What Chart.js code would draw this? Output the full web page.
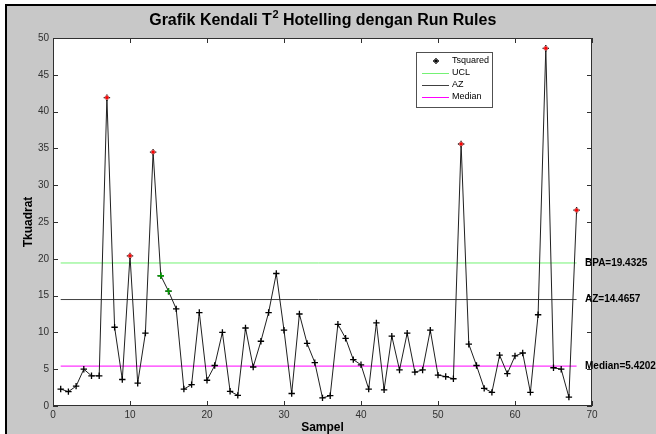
<!DOCTYPE html>
<html>
<head>
<meta charset="utf-8">
<script src="https://cdn.jsdelivr.net/npm/chart.js@4/dist/chart.umd.min.js"></script>
<style>
  html, body { margin: 0; padding: 0; background: #ffffff; }
  #c { display: block; }
</style>
</head>
<body>
<canvas id="c" width="656" height="434"></canvas>
<script>
// T-squared statistic per sample
const samples = Array.from({ length: 68 }, (_, i) => i + 1);
const tsquared = [
  2.3, 1.95, 2.7, 5.0, 4.1, 4.1, 41.9, 10.7, 3.6, 20.4,
  3.1, 9.9, 34.5, 17.7, 15.6, 13.2, 2.3, 2.9, 12.7, 3.5,
  5.5, 10.0, 2.0, 1.45, 10.6, 5.3, 8.8, 12.7, 18.0, 10.3,
  1.7, 12.5, 8.5, 5.9, 1.1, 1.4, 11.1, 9.2, 6.3, 5.6,
  2.3, 11.3, 2.2, 9.5, 4.9, 9.9, 4.6, 4.9, 10.3, 4.2,
  4.0, 3.7, 35.6, 8.4, 5.5, 2.4, 1.85, 6.9, 4.4, 6.8,
  7.2, 1.85, 12.4, 48.6, 5.2, 5.0, 1.2, 26.6
];

// Control limits
const ucl = 19.4325;     // BPA
const az = 14.4657;      // zone A boundary
const median = 5.4202;

// Axis ticks
const xTicks = [0, 10, 20, 30, 40, 50, 60, 70];
const yTicks = [0, 5, 10, 15, 20, 25, 30, 35, 40, 45, 50];

const legendNames = ['Tsquared', 'UCL', 'AZ', 'Median'];
const limitLabels = ['BPA=' + ucl, 'AZ=' + az, 'Median=' + median];

// Points beyond the UCL
const outPoints = samples.map((s, i) => tsquared[i] > ucl ? { x: s, y: tsquared[i] } : null).filter(p => p);

// Run rule: 2 of 3 consecutive points in zone A (between AZ and UCL) or beyond
const runPoints = [];
samples.forEach((s, i) => {
  const v = tsquared[i];
  if (!(v > az && v <= ucl)) return;
  let flagged = false;
  for (let start = i - 2; start <= i; start++) {
    if (start < 0 || start + 2 >= tsquared.length) continue;
    let n = 0;
    for (let k = start; k < start + 3; k++) if (tsquared[k] > az) n++;
    if (n >= 2) flagged = true;
  }
  if (flagged) runPoints.push({ x: s, y: v });
});

const seriesPoints = samples.map((s, i) => ({ x: s, y: tsquared[i] }));
const hline = v => [{ x: samples[0], y: v }, { x: samples[samples.length - 1], y: v }];

const COLORS = { ucl: '#74f274', az: '#404040', median: '#ff00ff', series: '#202020' };
const FONT = '"Liberation Sans", Arial, sans-serif';

function drawPlus(ctx, x, y, r, color) {
  ctx.strokeStyle = color;
  ctx.lineWidth = 1.3;
  ctx.beginPath();
  ctx.moveTo(x, y - r); ctx.lineTo(x, y + r);
  ctx.moveTo(x - r, y); ctx.lineTo(x + r, y);
  ctx.stroke();
  ctx.lineWidth = 0.8;
  const d = r * 0.6;
  ctx.beginPath();
  ctx.moveTo(x - d, y - d); ctx.lineTo(x + d, y + d);
  ctx.moveTo(x + d, y - d); ctx.lineTo(x - d, y + d);
  ctx.stroke();
}

const figurePlugin = {
  id: 'figure',
  beforeDraw(chart) {
    const { ctx, width, height, chartArea: a } = chart;
    ctx.save();
    ctx.fillStyle = '#ffffff';
    ctx.fillRect(0, 0, width, height);
    ctx.fillStyle = '#c8c8c8';
    ctx.fillRect(5, 4, width - 5, height - 4);
    ctx.fillStyle = '#000000';
    ctx.fillRect(5, 4, 2, height - 4);
    ctx.fillRect(5, 4, width - 5, 2);
    ctx.fillStyle = '#ffffff';
    ctx.fillRect(a.left, a.top, a.right - a.left, a.bottom - a.top);
    ctx.restore();
  },
  afterDraw(chart) {
    const { ctx, chartArea: a, scales } = chart;
    const xs = scales.x, ys = scales.y;
    ctx.save();

    // axes box with inward ticks
    ctx.strokeStyle = '#303030';
    ctx.lineWidth = 1;
    ctx.strokeRect(a.left + 0.5, a.top + 0.5, a.right - a.left - 1, a.bottom - a.top - 1);
    ctx.beginPath();
    const tl = 5;
    xTicks.forEach(t => {
      const px = Math.round(xs.getPixelForValue(t)) + 0.5;
      ctx.moveTo(px, a.bottom); ctx.lineTo(px, a.bottom - tl);
      ctx.moveTo(px, a.top); ctx.lineTo(px, a.top + tl);
    });
    yTicks.forEach(t => {
      const py = Math.round(ys.getPixelForValue(t)) + 0.5;
      ctx.moveTo(a.left, py); ctx.lineTo(a.left + tl, py);
      ctx.moveTo(a.right, py); ctx.lineTo(a.right - tl, py);
    });
    ctx.stroke();

    // title with superscript
    const cx = (a.left + a.right) / 2;
    const base = 25;
    const p1 = 'Grafik Kendali T', sup = '2', p2 = ' Hotelling dengan Run Rules';
    ctx.fillStyle = '#000000';
    ctx.textBaseline = 'alphabetic';
    ctx.textAlign = 'left';
    ctx.font = 'bold 16px ' + FONT;
    const w1 = ctx.measureText(p1).width, w2 = ctx.measureText(p2).width;
    ctx.font = 'bold 11px ' + FONT;
    const ws = ctx.measureText(sup).width;
    let x0 = cx - (w1 + ws + w2) / 2;
    ctx.font = 'bold 16px ' + FONT;
    ctx.fillText(p1, x0, base);
    ctx.font = 'bold 11px ' + FONT;
    ctx.fillText(sup, x0 + w1 + 0.5, base - 7);
    ctx.font = 'bold 16px ' + FONT;
    ctx.fillText(p2, x0 + w1 + ws + 0.5, base);

    // axis titles
    ctx.font = 'bold 12px ' + FONT;
    ctx.textAlign = 'center';
    ctx.textBaseline = 'middle';
    ctx.fillText('Sampel', cx, 428);
    ctx.save();
    ctx.translate(29, (a.top + a.bottom) / 2);
    ctx.rotate(-Math.PI / 2);
    ctx.fillText('Tkuadrat', 0, 0);
    ctx.restore();

    // limit labels at the right end of each line
    ctx.font = 'bold 10px ' + FONT;
    ctx.textAlign = 'left';
    ctx.textBaseline = 'middle';
    [ucl, az, median].forEach((v, i) => {
      ctx.fillText(limitLabels[i], 585, ys.getPixelForValue(v));
    });

    // legend box
    const lx = 416, ly = 52, lw = 76, lh = 55;
    ctx.fillStyle = '#ffffff';
    ctx.fillRect(lx, ly, lw, lh);
    ctx.strokeStyle = '#505050';
    ctx.lineWidth = 1;
    ctx.strokeRect(lx + 0.5, ly + 0.5, lw, lh);
    const rows = [61, 73, 85, 97];
    const lineColors = [null, COLORS.ucl, COLORS.az, COLORS.median];
    ctx.font = '9px ' + FONT;
    rows.forEach((ry, i) => {
      if (i === 0) {
        drawPlus(ctx, 436, ry, 3, '#000000');
      } else {
        ctx.fillStyle = lineColors[i];
        ctx.fillRect(422, ry, 27, 1);
      }
      ctx.fillStyle = '#000000';
      ctx.fillText(legendNames[i], 452, ry);
    });
    ctx.restore();
  }
};

new Chart(document.getElementById('c'), {
  type: 'line',
  data: {
    datasets: [
      {
        label: legendNames[0], data: seriesPoints, order: 2,
        borderColor: COLORS.series, borderWidth: 1, tension: 0,
        pointStyle: 'cross', pointRadius: 3.2, pointBorderColor: '#000000',
        pointBorderWidth: 1.3
      },
      {
        label: 'out', data: outPoints, order: 0, showLine: false,
        pointStyle: 'circle', pointRadius: 2, pointBackgroundColor: '#ff0000',
        pointBorderColor: '#d07070', pointBorderWidth: 1
      },
      {
        label: 'run', data: runPoints, order: 1, showLine: false,
        pointStyle: 'cross', pointRadius: 3.2, pointBorderColor: '#00a000',
        pointBorderWidth: 1.3
      },
      { label: legendNames[1], data: hline(ucl), order: 3, borderColor: COLORS.ucl, borderWidth: 1, pointRadius: 0 },
      { label: legendNames[2], data: hline(az), order: 3, borderColor: COLORS.az, borderWidth: 1, pointRadius: 0 },
      { label: legendNames[3], data: hline(median), order: 3, borderColor: COLORS.median, borderWidth: 1, pointRadius: 0 }
    ]
  },
  options: {
    responsive: false,
    animation: false,
    devicePixelRatio: 1,
    layout: { padding: { left: 0, top: 38, right: 64, bottom: 0 } },
    plugins: { legend: { display: false }, title: { display: false }, tooltip: { enabled: false } },
    scales: {
      x: {
        type: 'linear', min: 0, max: 70,
        afterFit: s => { s.height = 28; },
        afterBuildTicks: s => { s.ticks = xTicks.map(v => ({ value: v })); },
        grid: { display: false, drawTicks: false },
        border: { display: false },
        ticks: { padding: 3, color: '#303030', maxRotation: 0, font: { family: FONT, size: 10 } }
      },
      y: {
        type: 'linear', min: 0, max: 50,
        afterFit: s => { s.width = 53; },
        afterBuildTicks: s => { s.ticks = yTicks.map(v => ({ value: v })); },
        grid: { display: false, drawTicks: false },
        border: { display: false },
        ticks: { padding: 4, color: '#303030', font: { family: FONT, size: 10 } }
      }
    }
  },
  plugins: [figurePlugin]
});
</script>
</body>
</html>
